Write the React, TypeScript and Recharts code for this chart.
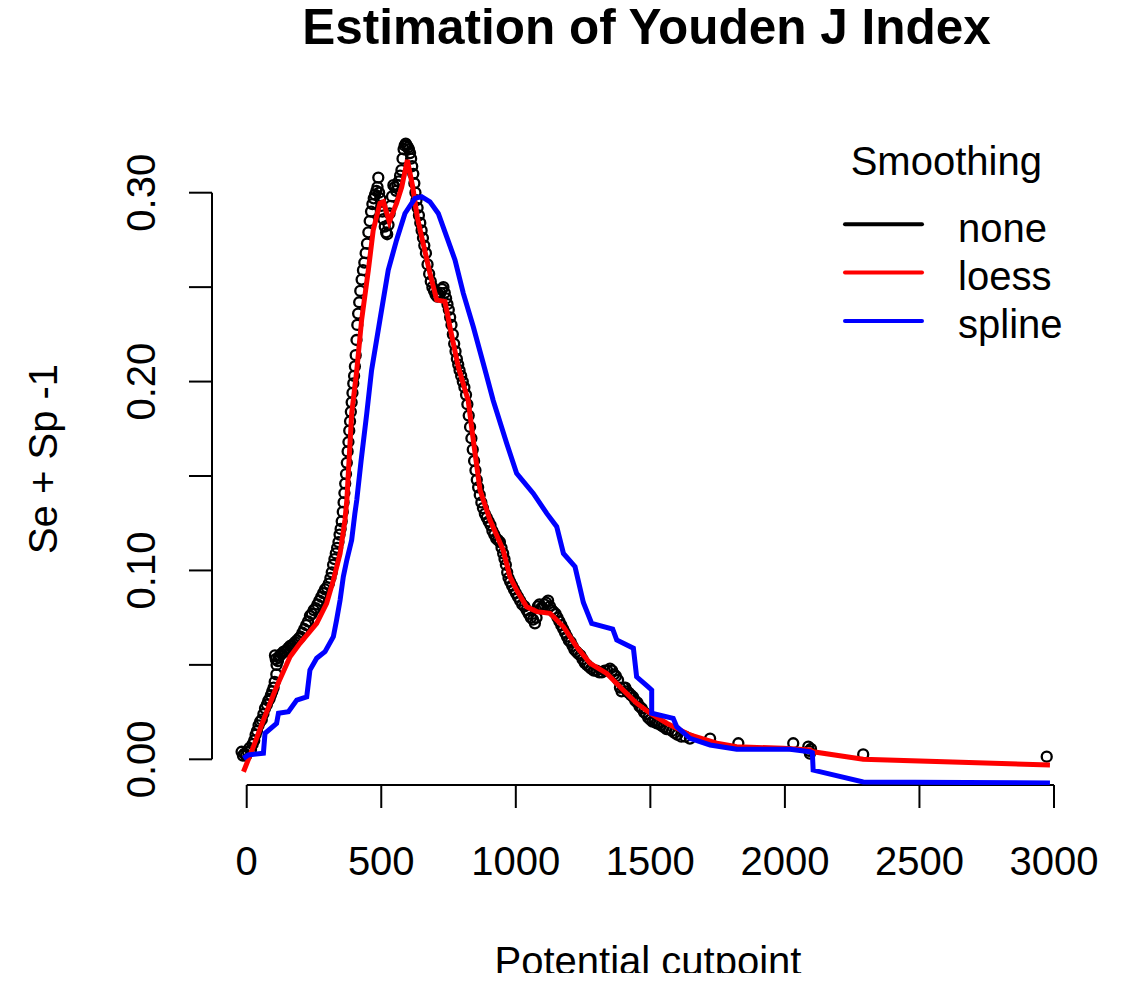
import React from 'react';
import { ComposedChart, Line, Scatter, XAxis, YAxis, ReferenceLine } from 'recharts';

// "none" = raw Youden estimates, [cutpoint, Se + Sp - 1], drawn as open circles
const noneCurve: [number, number][] = [
  [-19, 0.004], [-14, 0.002], [-8, 0.003], [-2, 0.002], [5, 0.004], [10, 0.006], [16, 0.005], [22, 0.008],
  [28, 0.01], [33, 0.013], [38, 0.015], [44, 0.018], [50, 0.02], [56, 0.021], [62, 0.024], [68, 0.027],
  [75, 0.029], [80, 0.031], [85, 0.032], [90, 0.034], [95, 0.036], [100, 0.038], [104, 0.041], [105, 0.055],
  [108, 0.053], [110, 0.045], [111, 0.05], [116, 0.052], [118, 0.054], [124, 0.055], [130, 0.056], [137, 0.057],
  [143, 0.057], [149, 0.058], [155, 0.059], [161, 0.06], [167, 0.06], [173, 0.061], [180, 0.062], [187, 0.063],
  [194, 0.064], [200, 0.065], [207, 0.067], [214, 0.069], [221, 0.071], [228, 0.073], [235, 0.076], [242, 0.077],
  [249, 0.079], [256, 0.08], [263, 0.082], [270, 0.084], [277, 0.086], [284, 0.088], [291, 0.09], [298, 0.091],
  [305, 0.093], [311, 0.096], [316, 0.099], [321, 0.103], [326, 0.106], [331, 0.109], [336, 0.112], [341, 0.115],
  [345, 0.119], [349, 0.122], [353, 0.126], [357, 0.131], [360, 0.136], [363, 0.141], [366, 0.146], [369, 0.151],
  [372, 0.157], [375, 0.163], [378, 0.168], [381, 0.174], [384, 0.179], [387, 0.184], [390, 0.189], [393, 0.194],
  [396, 0.199], [399, 0.203], [402, 0.208], [405, 0.214], [408, 0.222], [411, 0.23], [414, 0.236], [418, 0.242],
  [422, 0.248], [427, 0.254], [432, 0.259], [437, 0.263], [442, 0.268], [447, 0.273], [452, 0.279], [457, 0.285],
  [462, 0.29], [467, 0.294], [472, 0.297], [477, 0.299], [482, 0.301], [486, 0.303], [489, 0.308], [492, 0.3],
  [496, 0.297], [500, 0.293], [504, 0.29], [508, 0.286], [513, 0.282], [518, 0.279], [522, 0.278], [527, 0.283],
  [531, 0.289], [535, 0.293], [540, 0.298], [545, 0.304], [550, 0.303], [555, 0.301], [560, 0.304], [565, 0.306],
  [570, 0.309], [575, 0.312], [579, 0.318], [583, 0.323], [587, 0.325], [591, 0.326], [595, 0.325], [599, 0.324],
  [603, 0.323], [607, 0.321], [611, 0.318], [615, 0.314], [619, 0.31], [623, 0.305], [627, 0.3], [631, 0.296],
  [635, 0.292], [640, 0.288], [645, 0.284], [650, 0.28], [655, 0.276], [660, 0.272], [666, 0.268], [672, 0.262],
  [678, 0.257], [684, 0.253], [690, 0.25], [696, 0.248], [702, 0.246], [708, 0.245], [714, 0.246], [720, 0.247],
  [726, 0.249], [731, 0.25], [736, 0.247], [741, 0.244], [746, 0.241], [751, 0.238], [756, 0.234], [761, 0.23],
  [766, 0.225], [771, 0.22], [776, 0.216], [781, 0.212], [786, 0.209], [791, 0.206], [797, 0.203], [803, 0.2],
  [809, 0.197], [815, 0.193], [820, 0.188], [825, 0.182], [830, 0.176], [835, 0.17], [840, 0.164], [845, 0.158],
  [850, 0.153], [855, 0.148], [860, 0.144], [866, 0.14], [872, 0.136], [878, 0.133], [885, 0.13], [892, 0.128],
  [899, 0.126], [906, 0.124], [913, 0.121], [920, 0.119], [927, 0.117], [934, 0.116], [941, 0.115], [947, 0.112],
  [953, 0.109], [958, 0.106], [963, 0.103], [968, 0.099], [973, 0.096], [979, 0.094], [986, 0.092], [993, 0.09],
  [1000, 0.088], [1008, 0.086], [1016, 0.084], [1024, 0.082], [1032, 0.081], [1040, 0.079], [1048, 0.077], [1056, 0.075],
  [1064, 0.074], [1071, 0.072], [1077, 0.075], [1082, 0.081], [1088, 0.082], [1094, 0.08], [1100, 0.08], [1106, 0.082],
  [1113, 0.083], [1120, 0.084], [1127, 0.081], [1134, 0.079], [1141, 0.078], [1148, 0.077], [1155, 0.075], [1162, 0.073],
  [1169, 0.071], [1176, 0.069], [1183, 0.067], [1190, 0.065], [1197, 0.063], [1204, 0.062], [1211, 0.06], [1218, 0.058],
  [1225, 0.057], [1232, 0.056], [1240, 0.055], [1248, 0.053], [1256, 0.051], [1264, 0.05], [1272, 0.049], [1280, 0.048],
  [1290, 0.047], [1300, 0.047], [1310, 0.046], [1320, 0.046], [1330, 0.047], [1340, 0.047], [1350, 0.048], [1358, 0.047],
  [1365, 0.045], [1372, 0.044], [1380, 0.042], [1387, 0.038], [1393, 0.036], [1400, 0.038], [1407, 0.038], [1414, 0.036],
  [1421, 0.035], [1428, 0.034], [1436, 0.033], [1444, 0.031], [1452, 0.03], [1460, 0.028], [1468, 0.027], [1476, 0.025],
  [1484, 0.024], [1492, 0.022], [1500, 0.021], [1508, 0.02], [1516, 0.02], [1524, 0.019], [1532, 0.019], [1540, 0.018],
  [1550, 0.017], [1560, 0.016], [1570, 0.016], [1580, 0.015], [1590, 0.014], [1600, 0.013], [1615, 0.012], [1630, 0.012],
  [1647, 0.011], [1722, 0.011], [1827, 0.0085], [2031, 0.0085], [2087, 0.0067], [2090, 0.0045], [2093, 0.003], [2097, 0.0055],
  [2291, 0.0026], [2973, 0.0014],
];

// loess smoothing
const loessCurve: [number, number][] = [
  [-12, -0.0066], [25, 0.0067], [62, 0.0208], [111, 0.0384], [161, 0.0543], [198, 0.0614], [260, 0.072], [297, 0.0826],
  [322, 0.0949], [347, 0.109], [365, 0.1267], [372, 0.137], [390, 0.183], [409, 0.206], [427, 0.2326], [452, 0.259],
  [470, 0.28], [495, 0.2944], [508, 0.2952], [530, 0.2846], [557, 0.2944], [576, 0.303], [597, 0.3173], [617, 0.303],
  [634, 0.287], [656, 0.273], [681, 0.2573], [706, 0.2432], [737, 0.2423], [755, 0.229], [786, 0.2079], [823, 0.19],
  [842, 0.169], [867, 0.1426], [904, 0.1267], [953, 0.1108], [978, 0.0967], [1003, 0.0896], [1040, 0.0808], [1078, 0.0782],
  [1127, 0.0773], [1177, 0.0702], [1226, 0.0596], [1276, 0.0508], [1338, 0.0455], [1399, 0.0367], [1449, 0.0297], [1499, 0.0244],
  [1561, 0.0191], [1647, 0.0129], [1747, 0.0085], [1821, 0.0067], [1994, 0.0058], [2093, 0.0049], [2105, 0.004], [2291, 0.0],
  [2985, -0.003],
];

// spline smoothing
const splineCurve: [number, number][] = [
  [-12, 0.0005], [6, 0.0023], [62, 0.0032], [68, 0.0138], [111, 0.019], [118, 0.0244], [155, 0.0252], [186, 0.0314],
  [223, 0.0331], [235, 0.0473], [260, 0.0535], [291, 0.057], [322, 0.0649], [334, 0.0738], [347, 0.0843], [359, 0.0967],
  [372, 0.1055], [390, 0.1161], [402, 0.1302], [409, 0.1373], [425, 0.158], [446, 0.183], [464, 0.206], [495, 0.2326],
  [526, 0.259], [557, 0.275], [588, 0.289], [625, 0.297], [650, 0.2979], [681, 0.2952], [712, 0.289], [743, 0.2767],
  [774, 0.2644], [805, 0.2467], [842, 0.229], [886, 0.206], [916, 0.19], [966, 0.1673], [1003, 0.1514], [1065, 0.1408],
  [1115, 0.1302], [1152, 0.1232], [1177, 0.109], [1220, 0.102], [1251, 0.083], [1282, 0.072], [1360, 0.069], [1375, 0.0632],
  [1437, 0.0588], [1449, 0.0437], [1492, 0.0384], [1505, 0.0367], [1505, 0.0244], [1585, 0.0217], [1598, 0.0173], [1647, 0.0111],
  [1722, 0.0076], [1821, 0.0053], [2019, 0.0053], [2093, 0.004], [2102, 0.0035], [2105, -0.0057], [2291, -0.012], [2985, -0.0125],
];

const xTicks = [0, 500, 1000, 1500, 2000, 2500, 3000];
const yTicks = [0, 0.05, 0.1, 0.15, 0.2, 0.25, 0.3];
const yTickLabels = ['0.00', '', '0.10', '', '0.20', '', '0.30'];

const legendNames = ['none', 'loess', 'spline'];
const legendColors = ['#000000', '#ff0000', '#0000ff'];

const toRows = (pts: [number, number][]) => pts.map(([x, y]) => ({ x, y }));
const noneData = toRows(noneCurve);
const loessData = toRows(loessCurve);
const splineData = toRows(splineCurve);

const X_MIN = -129;
const Y_MIN = -0.0136;
const FONT = '"Liberation Sans", Arial, Helvetica, sans-serif';

const XTick = ({ x, y, payload }: any) => (
  <text x={x} y={y} dy={67} textAnchor="middle" fontSize={40} fill="#000" fontFamily={FONT}>
    {payload.value}
  </text>
);

const YTick = ({ x, y, payload }: any) => {
  const label = yTickLabels[yTicks.indexOf(payload.value)];
  if (!label) return <g />;
  const tx = x - 34;
  return (
    <text x={tx} y={y} transform={`rotate(-90, ${tx}, ${y})`} textAnchor="middle" fontSize={40} fill="#000" fontFamily={FONT}>
      {label}
    </text>
  );
};

// open circle, like R's pch = 1
const OpenCircle = (p: any) => {
  if (p.cx == null || p.cy == null) return <g />;
  return <circle cx={p.cx} cy={p.cy} r={5} fill="none" stroke="#000" strokeWidth={2.3} />;
};

export default function App() {
  return (
    <div style={{ position: 'relative', width: 1109, height: 965, fontFamily: FONT }}>
      <style>{'body{overflow:hidden;background:#fff}'}</style>
      <ComposedChart
        width={1109}
        height={965}
        margin={{ top: 125.2, right: 36.1, bottom: 88, left: 4 }}
      >
        <XAxis
          type="number"
          dataKey="x"
          domain={[X_MIN, 3100]}
          allowDataOverflow
          ticks={xTicks}
          axisLine={false}
          tickLine={{ stroke: '#000', strokeWidth: 2 }}
          tickSize={23}
          tickMargin={0}
          tick={<XTick />}
          height={100}
        />
        <YAxis
          type="number"
          domain={[Y_MIN, 0.3315]}
          allowDataOverflow
          ticks={yTicks}
          axisLine={false}
          tickLine={{ stroke: '#000', strokeWidth: 2 }}
          tickSize={23}
          tickMargin={0}
          tick={<YTick />}
          width={200}
        />
        <ReferenceLine
          segment={[{ x: 0, y: Y_MIN }, { x: 3000, y: Y_MIN }]}
          stroke="#000"
          strokeWidth={2}
          ifOverflow="visible"
        />
        <ReferenceLine
          segment={[{ x: X_MIN, y: 0 }, { x: X_MIN, y: 0.3 }]}
          stroke="#000"
          strokeWidth={2}
          ifOverflow="visible"
        />
        {/* points go under the smoothers, as in the R plot */}
        <Scatter data={noneData} dataKey="y" shape={OpenCircle} zIndex={300} isAnimationActive={false} />
        <Line data={loessData} dataKey="y" type="linear" stroke="#ff0000" strokeWidth={5} dot={false} isAnimationActive={false} />
        <Line data={splineData} dataKey="y" type="linear" stroke="#0000ff" strokeWidth={5} dot={false} isAnimationActive={false} />
      </ComposedChart>
      <svg
        width={1109}
        height={973}
        style={{ position: 'absolute', left: 0, top: 0, pointerEvents: 'none', overflow: 'visible' }}
        fontFamily={FONT}
      >
        <text x={638.5} y={36.3} textAnchor="middle" fontSize={49.5} fontWeight="bold" fill="#000">
          Estimation of Youden J Index
        </text>
        <text x={640} y={967} textAnchor="middle" fontSize={40} fill="#000">
          Potential cutpoint
        </text>
        <text x={49} y={451} transform="rotate(-90, 49, 451)" textAnchor="middle" fontSize={40} fill="#000">
          Se + Sp -1
        </text>
        <text x={842.7} y={167} fontSize={40} fill="#000">Smoothing</text>
        {legendNames.map((name, i) => (
          <g key={name}>
            <line x1={837} x2={914} y1={216.3 + i * 48.3} y2={216.3 + i * 48.3} stroke={legendColors[i]} strokeWidth={4} strokeLinecap="round" />
            <text x={950} y={233.7 + i * 48.3} fontSize={40} fill="#000">{name}</text>
          </g>
        ))}
      </svg>
    </div>
  );
}
